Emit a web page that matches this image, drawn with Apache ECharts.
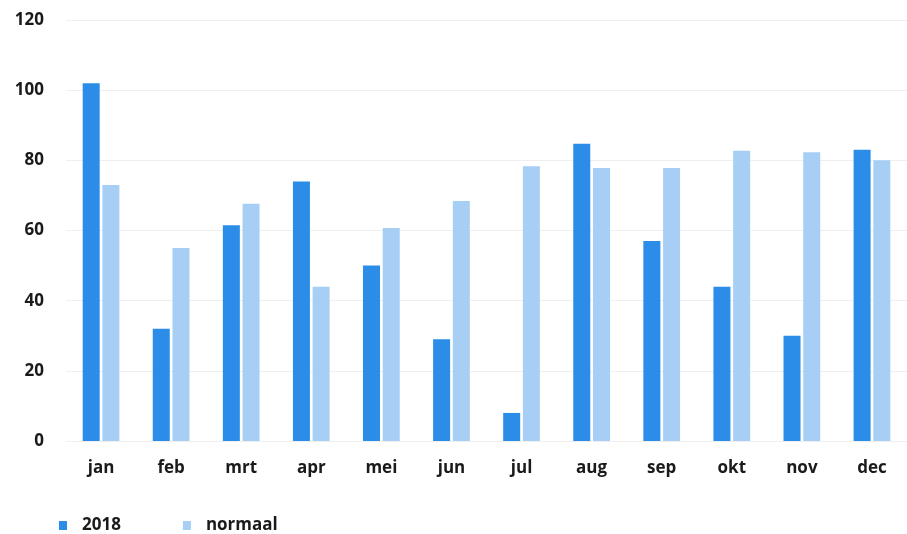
<!DOCTYPE html>
<html>
<head>
<meta charset="utf-8">
<title>Neerslag 2018</title>
<script src="https://cdn.jsdelivr.net/npm/echarts@6/dist/echarts.min.js"></script>
<style>
  html, body { margin: 0; padding: 0; background: #ffffff; }
  #chart { width: 907px; height: 534px; }
</style>
</head>
<body>
<div id="chart"></div>
<script>
// Monthly precipitation (mm): 2018 against the long-term normal
const months = ['jan', 'feb', 'mrt', 'apr', 'mei', 'jun', 'jul', 'aug', 'sep', 'okt', 'nov', 'dec'];
const values2018 = [102, 32, 61.5, 74, 50, 29, 8, 84.7, 57, 44, 30, 83];
const valuesNormaal = [73, 55, 67.6, 44, 60.7, 68.4, 78.3, 77.8, 77.8, 82.7, 82.3, 80];
const seriesNames = ['2018', 'normaal'];
const yTicks = { min: 0, max: 120, interval: 20 };

const fontFamily = '"Open Sans", "Noto Sans", sans-serif';
const textColor = '#1a1a1a';

const chart = echarts.init(document.getElementById('chart'), null, { renderer: 'canvas' });

chart.setOption({
  animation: false,
  backgroundColor: '#ffffff',
  grid: { left: 66, top: 20, width: 848, bottom: 93, containLabel: false },
  legend: {
    left: 54,
    top: 512,
    itemWidth: 8,
    itemHeight: 9,
    itemGap: 62,
    icon: 'rect',
    textStyle: {
      fontFamily: fontFamily,
      fontSize: 17,
      fontWeight: 'bold',
      color: textColor,
      padding: [0, 0, 0, 10]
    },
    data: seriesNames
  },
  xAxis: {
    type: 'category',
    data: months,
    axisLine: { show: false },
    axisTick: { show: false },
    axisLabel: {
      margin: 19,
      fontFamily: fontFamily,
      fontSize: 17,
      fontWeight: 'bold',
      color: textColor
    }
  },
  yAxis: {
    type: 'value',
    min: yTicks.min,
    max: yTicks.max,
    interval: yTicks.interval,
    axisLine: { show: false },
    axisTick: { show: false },
    splitLine: { lineStyle: { color: '#efefef', width: 1 } },
    axisLabel: {
      margin: 22,
      fontFamily: fontFamily,
      fontSize: 17,
      fontWeight: 'bold',
      color: textColor
    }
  },
  series: [
    {
      name: seriesNames[0],
      type: 'bar',
      data: values2018,
      barWidth: 17,
      barGap: '16%',
      itemStyle: { color: '#2b8de7' }
    },
    {
      name: seriesNames[1],
      type: 'bar',
      data: valuesNormaal,
      barWidth: 17,
      barGap: '16%',
      itemStyle: { color: '#a7cff5' }
    }
  ]
});
</script>
</body>
</html>
